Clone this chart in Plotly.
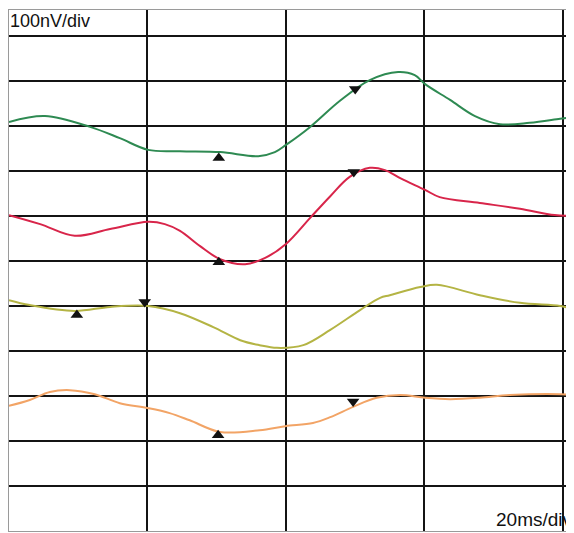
import plotly.graph_objects as go

# ---- data (time in ms, amplitude in nV on a common stacked scale) ----
green_t = [0, 5.2, 11.7, 16.0, 20.1, 24.7, 30.5, 36.0, 38.4, 40.0, 43.5, 47.8, 52.1, 56.2, 58.6, 60.1, 63.7, 67.3, 70.9, 75.2, 79.6, 81.6]
green_v = [809, 822, 798, 773, 747, 744, 742, 733, 742, 758, 798, 856, 902, 920, 913, 893, 858, 822, 804, 807, 816, 820]

red_t = [0, 4.5, 9.5, 14.6, 20.1, 22.5, 24.7, 27.6, 30.5, 34.1, 37.0, 40.0, 43.5, 46.4, 49.2, 52.1, 54.3, 56.5, 60.1, 62.2, 68.0, 73.8, 78.8, 81.6]
red_v = [602, 582, 556, 571, 587, 582, 567, 533, 504, 493, 507, 538, 596, 644, 687, 707, 702, 684, 658, 642, 629, 616, 602, 600]

olive_t = [0, 3.0, 9.5, 14.6, 20.1, 24.7, 29.5, 33.4, 36.2, 38.7, 42.5, 46.4, 50.7, 53.6, 55.0, 59.4, 61.8, 68.0, 73.8, 79.6, 81.6]
olive_v = [413, 402, 389, 398, 400, 384, 353, 324, 313, 307, 313, 347, 391, 418, 424, 442, 447, 424, 407, 400, 393]

orange_t = [0, 3.0, 5.9, 8.8, 12.4, 16.0, 20.1, 23.2, 26.1, 30.5, 36.2, 39.9, 43.9, 46.4, 49.7, 53.1, 56.5, 60.1, 63.7, 68.0, 72.3, 79.6, 81.6]
orange_v = [178, 191, 209, 213, 204, 184, 173, 162, 146, 120, 124, 133, 140, 153, 176, 196, 202, 196, 193, 196, 202, 204, 202]

# peak markers (time ms, amplitude nV)
up_t = [30.3, 30.3, 9.8, 30.2]
up_v = [729, 497, 380, 113]
down_t = [50.0, 49.8, 19.6, 49.7]
down_v = [882, 698, 409, 188]

y_label = "100nV/div"
x_label = "20ms/div"

fig = go.Figure()
series = [
    (green_t, green_v, "#2e8a52"),
    (red_t, red_v, "#d8254a"),
    (olive_t, olive_v, "#b4b444"),
    (orange_t, orange_v, "#f2a466"),
]
for t, v, c in series:
    fig.add_trace(go.Scatter(x=t, y=v, mode="lines", line=dict(color=c, width=2, shape="spline", smoothing=1.0),
                             hoverinfo="skip", showlegend=False))

fig.add_trace(go.Scatter(x=up_t, y=up_v, mode="markers",
                         marker=dict(symbol="triangle-up", size=11, color="#111111"), showlegend=False))
fig.add_trace(go.Scatter(x=down_t, y=down_v, mode="markers",
                         marker=dict(symbol="triangle-down", size=11, color="#111111"), showlegend=False))

# page body has an 8px default margin, so the figure is sized to fit the 574x533 window
fig.update_layout(
    width=566, height=525,
    margin=dict(l=1, r=0, t=2, b=2),
    paper_bgcolor="white", plot_bgcolor="white",
    font=dict(family="Liberation Sans, Arial, sans-serif", color="#111111"),
    xaxis=dict(range=[0, 81.6], dtick=20, tick0=0, showgrid=True, gridcolor="#141414", gridwidth=1.6,
               zeroline=False, showticklabels=False, ticks="",
               showline=True, linecolor="#9a9a9a", linewidth=1, mirror=True),
    yaxis=dict(range=[-100, 1057.8], dtick=100, tick0=0, showgrid=True, gridcolor="#141414", gridwidth=2,
               zeroline=False, showticklabels=False, ticks="",
               showline=True, linecolor="#9a9a9a", linewidth=1),
    annotations=[
        dict(text=y_label, xref="paper", yref="paper", x=0.0, y=1.0, xanchor="left", yanchor="top",
             showarrow=False, borderpad=0,
             font=dict(size=18, family="Liberation Sans, Arial, sans-serif", color="#111111"),
             bgcolor="white"),
        dict(text=x_label, xref="paper", yref="paper", x=1.0, y=0.0, xanchor="right", yanchor="bottom",
             showarrow=False, borderpad=0,
             font=dict(size=19, family="Liberation Sans, Arial, sans-serif", color="#111111")),
    ],
)

fig.write_html("out.html")
